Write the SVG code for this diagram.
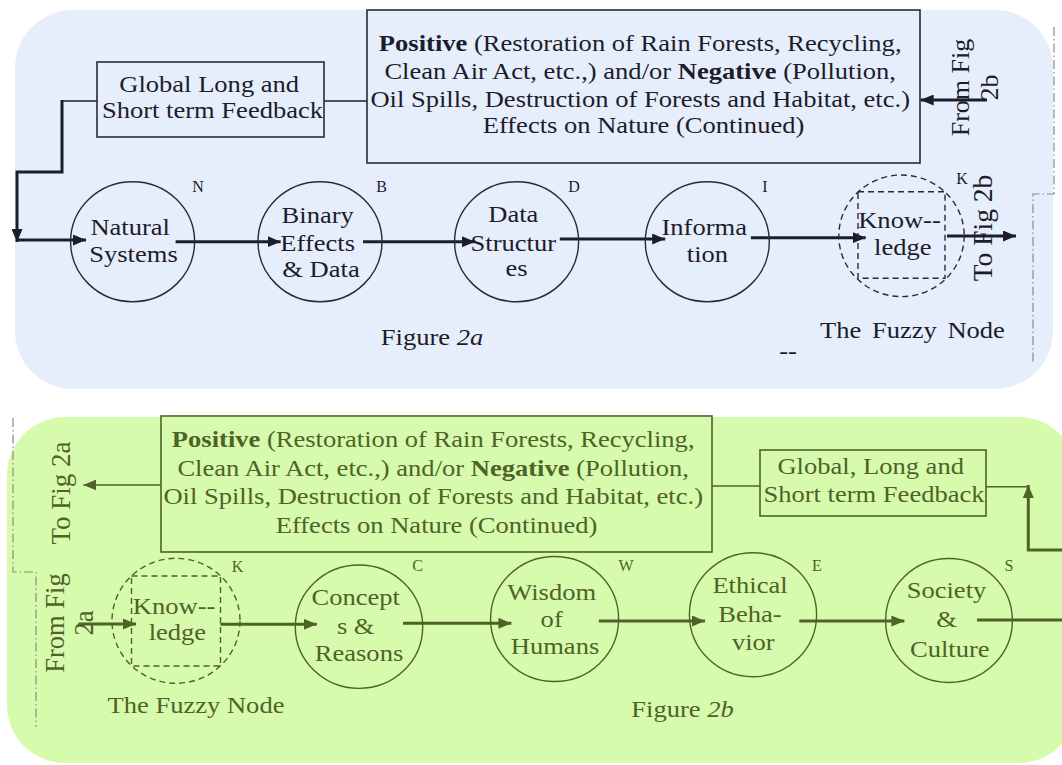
<svg xmlns="http://www.w3.org/2000/svg" width="1062" height="765" viewBox="0 0 1062 765">
  <defs>
    <style>
      .bg { stroke: none; }
      .t { font-family: "Liberation Serif", "Times New Roman", serif; font-size: 23.5px; text-anchor: middle; }
      .rt { font-family: "Liberation Serif", "Times New Roman", serif; text-anchor: middle; }
      .lbl { font-family: "Liberation Serif", "Times New Roman", serif; font-size: 16px; text-anchor: middle; }
      .dk { fill: #1c1c2a; }
      .gr { fill: #4f6228; }
      .nodeA { fill: none; stroke: #2a2a36; stroke-width: 1.4; }
      .nodeB { fill: none; stroke: #4f6228; stroke-width: 1.4; }
      .fuzzy { stroke-dasharray: 6 4; }
      .box { stroke-width: 1.6; }
      .thinA { fill: none; stroke: #1c1c2a; stroke-width: 1.6; }
      .thickA { fill: none; stroke: #1c1c2a; stroke-width: 3; }
      .thinB { fill: none; stroke: #4f6228; stroke-width: 1.6; }
      .thickB { fill: none; stroke: #4f6228; stroke-width: 3; }
      .edge { fill: none; stroke: #8a8a8a; stroke-width: 1.2; stroke-dasharray: 9 3 1.5 3; }
      b, .bold { font-weight: bold; }
      .it { font-style: italic; }
    </style>
    <marker id="arrowA" viewBox="0 0 13 11" markerWidth="13" markerHeight="11" refX="13" refY="5.5" orient="auto" markerUnits="userSpaceOnUse">
      <path d="M0,0 L13,5.5 L0,11 z" fill="#1c1c2a"/>
    </marker>
    <marker id="arrowB" viewBox="0 0 13 11" markerWidth="13" markerHeight="11" refX="13" refY="5.5" orient="auto" markerUnits="userSpaceOnUse">
      <path d="M0,0 L13,5.5 L0,11 z" fill="#4f6228"/>
    </marker>
  </defs>

  <!-- panel backgrounds -->
  <rect class="bg" x="15" y="10" width="1038" height="379" rx="58" fill="#e6eefc"/>
  <rect class="bg" x="7" y="417" width="1070" height="346" rx="58" fill="#d6fbac"/>

  <!-- page edge marks -->
  <path class="edge" d="M1054,27 V194 H1033 V362"/>
  <path class="edge" d="M13,418 V572 H36 V727"/>

  <!-- ===== Figure 2a ===== -->
  <g id="connectors-2a">
    <path class="thinA" d="M367,101 H324"/>
    <path class="thinA" d="M97,101 H62"/>
    <path class="thickA" d="M62,100 V172 H17 V242" marker-end="url(#arrowA)"/>
    <path class="thickA" d="M17,240 H86" marker-end="url(#arrowA)"/>
    <path class="thickA" d="M175.6,241.7 H280.6" marker-end="url(#arrowA)"/>
    <path class="thickA" d="M363,241.7 H475" marker-end="url(#arrowA)"/>
    <path class="thickA" d="M559.8,239 H665.2" marker-end="url(#arrowA)"/>
    <path class="thickA" d="M750.9,237.7 H865.7" marker-end="url(#arrowA)"/>
    <path class="thickA" d="M946.9,236 H1016" marker-end="url(#arrowA)"/>
    <path class="thickA" d="M987,100 H920.7" marker-end="url(#arrowA)"/>
  </g>

  <g id="effects-2a">
    <rect class="nodeA box" x="367" y="10" width="553" height="153"/>
    <text class="t dk" transform="matrix(1.13 0 0 1 643.5 0)">
      <tspan x="0" y="51"><tspan class="bold">Positive</tspan> (Restoration of Rain Forests, Recycling,</tspan>
      <tspan x="0" y="79">Clean Air Act, etc.,) and/or <tspan class="bold">Negative</tspan> (Pollution,</tspan>
      <tspan x="0" y="107">Oil Spills, Destruction of Forests and Habitat, etc.)</tspan>
      <tspan x="0" y="133.5">Effects on Nature (Continued)</tspan>
    </text>
  </g>

  <g id="feedback-2a">
    <rect class="nodeA box" x="97" y="62" width="227" height="75"/>
    <text class="t dk" transform="matrix(1.13 0 0 1 212.5 0)">
      <tspan x="0" y="91.7">Global Long and</tspan>
      <tspan x="0" y="118.3">Short term Feedback</tspan>
    </text>
  </g>

  <g id="natural-systems">
    <ellipse class="nodeA" cx="132.6" cy="241.7" rx="62" ry="60"/>
    <text class="t dk" transform="matrix(1.13 0 0 1 133.5 0)">
      <tspan x="0" y="235">Natural</tspan>
      <tspan x="0" y="261.7">Systems</tspan>
    </text>
    <text class="lbl dk" x="198" y="192">N</text>
  </g>

  <g id="binary-effects">
    <ellipse class="nodeA" cx="320" cy="241.7" rx="62" ry="60"/>
    <text class="t dk" transform="matrix(1.13 0 0 1 321 0)">
      <tspan x="0" y="223.3">Binary</tspan>
      <tspan x="0" y="250.7">Effects</tspan>
      <tspan x="0" y="276.7">&amp; Data</tspan>
    </text>
    <text class="lbl dk" x="381.5" y="192">B</text>
  </g>

  <g id="data-structures">
    <ellipse class="nodeA" cx="516.6" cy="241.7" rx="62" ry="60"/>
    <text class="t dk" transform="matrix(1.13 0 0 1 516.6 0)">
      <tspan x="0" y="221.7">Data</tspan>
      <tspan x="0" y="251">Structur</tspan>
      <tspan x="0" y="276">es</tspan>
    </text>
    <text class="lbl dk" x="574" y="192">D</text>
  </g>

  <g id="information">
    <ellipse class="nodeA" cx="707.3" cy="241.7" rx="62" ry="60"/>
    <text class="t dk" transform="matrix(1.13 0 0 1 707.5 0)">
      <tspan x="0" y="235">Informa</tspan>
      <tspan x="0" y="261.7">tion</tspan>
    </text>
    <text class="lbl dk" x="765" y="192">I</text>
  </g>

  <g id="knowledge-2a">
    <ellipse class="nodeA fuzzy" cx="901.5" cy="235.8" rx="62.7" ry="60.8"/>
    <rect class="nodeA fuzzy" x="858" y="191.7" width="87" height="86.6"/>
    <text class="t dk" transform="matrix(1.13 0 0 1 902.8 0)">
      <tspan x="0" y="228.3">Know--</tspan>
      <tspan x="0" y="255">ledge</tspan>
    </text>
    <text class="lbl dk" x="962" y="184">K</text>
    <text class="t dk" transform="matrix(1.13 0 0 1 912.5 0)" x="0" y="338" word-spacing="3.5">The Fuzzy Node</text>
  </g>

  <g id="captions-2a">
    <text class="t dk" transform="matrix(1.13 0 0 1 432 0)" x="0" y="345">Figure <tspan class="it">2a</tspan></text>
    <text class="t dk" transform="matrix(1.13 0 0 1 788 0)" x="0" y="359">--</text>
    <text class="rt dk" font-size="26" transform="translate(969,87.5) rotate(-90)" x="0" y="0">From Fig</text>
    <text class="rt dk" font-size="26" transform="translate(998,87.5) rotate(-90)" x="0" y="0">2b</text>
    <text class="rt dk" font-size="27.5" transform="translate(992,228) rotate(-90)" x="0" y="0">To Fig 2b</text>
  </g>

  <!-- ===== Figure 2b ===== -->
  <g id="connectors-2b">
    <path class="thinB" d="M161,485 H83.3" marker-end="url(#arrowB)"/>
    <path class="thinB" d="M712,486 H760"/>
    <path class="thinB" d="M986,486.7 H1028"/>
    <path class="thickB" d="M78.5,624 H136" marker-end="url(#arrowB)"/>
    <path class="thickB" d="M220.4,624.3 H316.8" marker-end="url(#arrowB)"/>
    <path class="thickB" d="M403,623.3 H511.4" marker-end="url(#arrowB)"/>
    <path class="thickB" d="M598.8,621 H705" marker-end="url(#arrowB)"/>
    <path class="thickB" d="M799.3,621 H904.4" marker-end="url(#arrowB)"/>
    <path class="thickB" d="M977,620 H1075 V550 H1028.3 V485" marker-end="url(#arrowB)"/>
  </g>

  <g id="effects-2b">
    <rect class="nodeB box" x="161" y="416" width="551" height="136"/>
    <text class="t gr" transform="matrix(1.13 0 0 1 436.5 0)">
      <tspan x="0" y="447.3"><tspan class="bold">Positive</tspan> (Restoration of Rain Forests, Recycling,</tspan>
      <tspan x="0" y="476">Clean Air Act, etc.,) and/or <tspan class="bold">Negative</tspan> (Pollution,</tspan>
      <tspan x="0" y="504">Oil Spills, Destruction of Forests and Habitat, etc.)</tspan>
      <tspan x="0" y="533">Effects on Nature (Continued)</tspan>
    </text>
  </g>

  <g id="feedback-2b">
    <rect class="nodeB box" x="760" y="450" width="226" height="66"/>
    <text class="t gr" transform="matrix(1.13 0 0 1 874 0)">
      <tspan x="0" y="474">Global, Long and</tspan>
      <tspan x="0" y="501.7">Short term Feedback</tspan>
    </text>
  </g>

  <g id="knowledge-2b">
    <ellipse class="nodeB fuzzy" cx="176" cy="620.8" rx="64" ry="62.5"/>
    <rect class="nodeB fuzzy" x="131.5" y="576" width="89" height="90"/>
    <text class="t gr" transform="matrix(1.13 0 0 1 177.4 0)">
      <tspan x="0" y="614">Know--</tspan>
      <tspan x="0" y="640">ledge</tspan>
    </text>
    <text class="lbl gr" x="237.6" y="572">K</text>
    <text class="t gr" transform="matrix(1.13 0 0 1 196 0)" x="0" y="712.7">The Fuzzy Node</text>
  </g>

  <g id="concepts">
    <ellipse class="nodeB" cx="359" cy="626.7" rx="63.7" ry="61.7"/>
    <text class="t gr" transform="matrix(1.13 0 0 1 359 0)">
      <tspan x="0" y="605">Concept</tspan>
      <tspan x="0" y="634">s &amp;</tspan>
      <tspan x="0" y="660.7">Reasons</tspan>
    </text>
    <text class="lbl gr" x="417.5" y="571">C</text>
  </g>

  <g id="wisdom">
    <ellipse class="nodeB" cx="554.6" cy="619" rx="64" ry="62.5"/>
    <text class="t gr" transform="matrix(1.13 0 0 1 555 0)">
      <tspan x="0" y="600">Wisdom</tspan>
      <tspan x="0" y="627.3">of</tspan>
      <tspan x="0" y="654">Humans</tspan>
    </text>
    <text class="lbl gr" x="626" y="571">W</text>
  </g>

  <g id="ethical">
    <ellipse class="nodeB" cx="753" cy="614.7" rx="63.6" ry="62"/>
    <text class="t gr" transform="matrix(1.13 0 0 1 753.3 0)">
      <tspan x="0" y="593.3">Ethical</tspan>
      <tspan x="0" y="621.7">Beha-</tspan>
      <tspan x="0" y="650">vior</tspan>
    </text>
    <text class="lbl gr" x="817" y="571">E</text>
  </g>

  <g id="society">
    <ellipse class="nodeB" cx="949" cy="620.5" rx="63.4" ry="62"/>
    <text class="t gr" transform="matrix(1.13 0 0 1 949.8 0)">
      <tspan x="0" y="598.3">Society</tspan>
      <tspan x="0" y="627.3">&amp;</tspan>
      <tspan x="0" y="656.7">Culture</tspan>
    </text>
    <text class="lbl gr" x="1009" y="571">S</text>
  </g>

  <g id="captions-2b">
    <text class="t gr" transform="matrix(1.13 0 0 1 682.5 0)" x="0" y="716.7">Figure <tspan class="it">2b</tspan></text>
    <text class="rt gr" font-size="27" transform="translate(70,493) rotate(-90)" x="0" y="0">To Fig 2a</text>
    <text class="rt gr" font-size="26.5" transform="translate(64,623) rotate(-90)" x="0" y="0">From Fig</text>
    <text class="rt gr" font-size="26.5" transform="translate(93,623) rotate(-90)" x="0" y="0">2a</text>
  </g>
</svg>
